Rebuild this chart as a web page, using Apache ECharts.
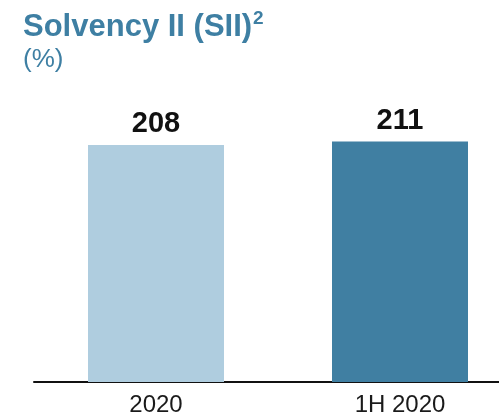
<!DOCTYPE html>
<html>
<head>
<meta charset="utf-8">
<script src="https://cdn.jsdelivr.net/npm/echarts@6/dist/echarts.min.js"></script>
<style>
  html, body { margin: 0; padding: 0; background: #fff; }
  #chart { width: 499px; height: 418px; }
</style>
</head>
<body>
<div id="chart"></div>
<script>
const categories = ['2020', '1H 2020']
const ratios = [208, 211]
const barColors = ['#afcddf', '#407fa2']

const sans = '"Liberation Sans", Arial, sans-serif'

const chart = echarts.init(document.getElementById('chart'))
chart.setOption({
  animation: false,
  title: {
    left: 18,
    top: 4,
    itemGap: 1,
    text: 'Solvency II (SII){sup|2}',
    textStyle: {
      color: '#3e7fa3',
      fontFamily: sans,
      fontWeight: 'bold',
      fontSize: 31,
      lineHeight: 36,
      rich: {
        sup: {
          color: '#3e7fa3',
          fontFamily: sans,
          fontWeight: 'bold',
          fontSize: 19,
          verticalAlign: 'top',
          lineHeight: 20,
          padding: [0, 0, 10, 1]
        }
      }
    },
    subtext: '(%)',
    subtextStyle: {
      color: '#3e7fa3',
      fontFamily: sans,
      fontSize: 26,
      lineHeight: 28
    }
  },
  grid: {
    left: 34,
    width: 488,
    top: 97,
    bottom: 36,
    outerBoundsMode: 'none'
  },
  xAxis: {
    type: 'category',
    data: categories,
    axisLine: { lineStyle: { color: '#111', width: 2 } },
    axisTick: { show: false },
    axisLabel: {
      color: '#1a1a1a',
      fontFamily: sans,
      fontSize: 24,
      margin: 11
    }
  },
  yAxis: {
    type: 'value',
    min: 0,
    max: 250,
    show: false,
    splitLine: { show: false }
  },
  series: [
    {
      type: 'bar',
      barWidth: 136,
      data: ratios.map((v, i) => ({ value: v, itemStyle: { color: barColors[i] } })),
      label: {
        show: true,
        position: 'top',
        distance: 6,
        color: '#111',
        fontFamily: sans,
        fontWeight: 'bold',
        fontSize: 29
      }
    }
  ]
})
</script>
</body>
</html>
